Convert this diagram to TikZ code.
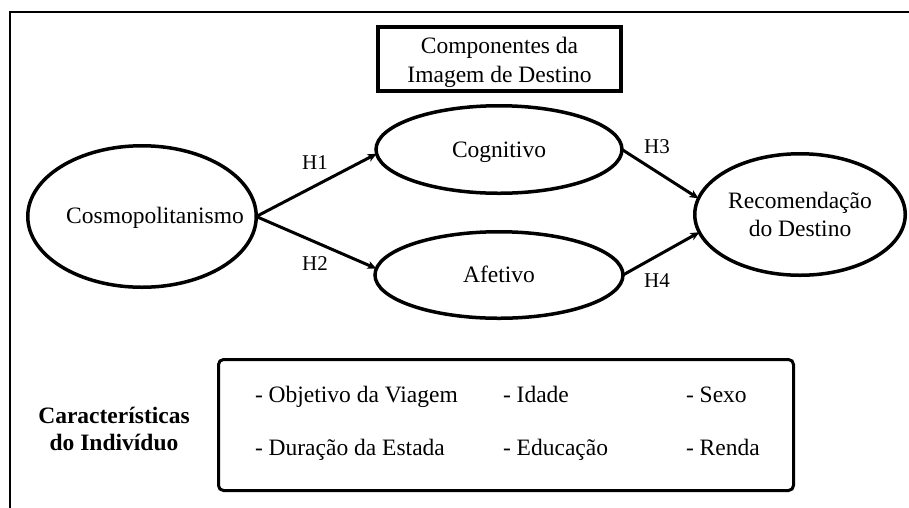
\documentclass[tikz,border=0pt]{standalone}
\usepackage{fontspec}
\setmainfont{Liberation Serif}
\usetikzlibrary{shapes.geometric,arrows.meta}
\begin{document}
\begin{tikzpicture}[x=1pt,y=-1pt,
  every node/.style={font=\fontsize{23.5}{28}\selectfont, inner sep=0pt, outer sep=0pt},
  oval/.style={draw, ellipse, line width=3.5pt},
  txt/.style={anchor=base},
  itemtxt/.style={anchor=base west},
  boldtxt/.style={anchor=base, font=\fontsize{23.5}{28}\selectfont\bfseries},
  arr/.style={line width=3pt, -{Stealth[length=9pt,width=8pt,inset=2.5pt]}},
  lbl/.style={anchor=base, font=\fontsize{21}{25}\selectfont},
]
\useasboundingbox (0,0) rectangle (909,507);
% outer frame (cropped at right and bottom)
\coordinate (fbl) at (10,530);
\coordinate (ftl) at (10,12);
\coordinate (ftr) at (930,12);
\draw[line width=2.5pt] (fbl) -- (ftl) -- (ftr);

% title box
\node[draw, rectangle, line width=4pt, minimum width=243pt, minimum height=64pt] (titlebox) at (499.5,59) {};
\node[txt] (t1) at (499.5,53) {Componentes da};
\node[txt] (t2) at (499.5,82) {Imagem de Destino};

% ellipses
\node[oval, minimum width=228.5pt, minimum height=141.5pt] (cosmo) at (142,216.5) {};
\node[txt] (cosmotxt) at (155,223) {Cosmopolitanismo};

\node[oval, minimum width=246pt, minimum height=87.5pt] (cog) at (499,149.5) {};
\node[txt] (cogtxt) at (499,157) {Cognitivo};

\node[oval, minimum width=248pt, minimum height=86.5pt] (afe) at (499,275) {};
\node[txt] (afetxt) at (499,282) {Afetivo};

\node[oval, minimum width=210.5pt, minimum height=121.5pt] (rec) at (800,214.5) {};
\node[txt] (rec1) at (800,208) {Recomendação};
\node[txt] (rec2) at (800,236) {do Destino};

% arrows
\draw[arr] (cosmo.east) -- (cog.182);
\draw[arr] (cosmo.east) -- (afe.177);
\draw[arr] (cog.east) -- (rec.171);
\draw[arr] (afe.east) -- (rec.190);

\node[lbl] (h1) at (315,169) {H1};
\node[lbl] (h2) at (315,270) {H2};
\node[lbl] (h3) at (657,153) {H3};
\node[lbl] (h4) at (657,287) {H4};

% characteristics
\node[boldtxt] (c1) at (114,423) {Características};
\node[boldtxt] (c2) at (114,450) {do Indivíduo};

\node[draw, rectangle, rounded corners=5pt, line width=3pt, minimum width=575pt, minimum height=131pt] (charbox) at (506,425) {};
\node[itemtxt] (i1) at (255,402) {- Objetivo da Viagem};
\node[itemtxt] (i2) at (503,402) {- Idade};
\node[itemtxt] (i3) at (686,402) {- Sexo};
\node[itemtxt] (i4) at (255,455) {- Duração da Estada};
\node[itemtxt] (i5) at (503,455) {- Educação};
\node[itemtxt] (i6) at (686,455) {- Renda};
\end{tikzpicture}
\end{document}
